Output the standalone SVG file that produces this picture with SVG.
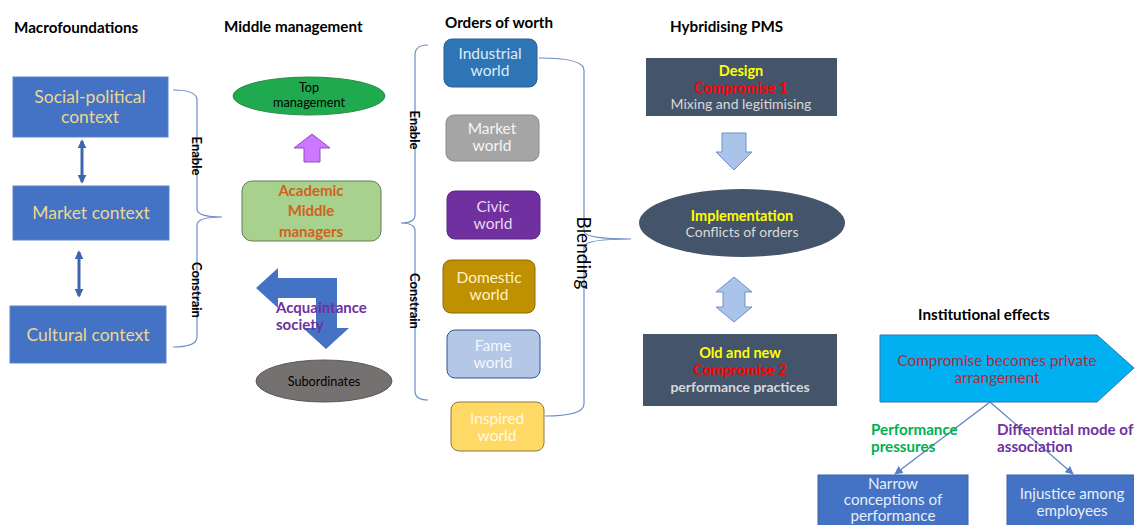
<svg xmlns="http://www.w3.org/2000/svg" width="1134" height="525" viewBox="0 0 1134 525">
<style>
text{font-family:Lato,"Liberation Sans",Arial,sans-serif}
.h{font-size:15.2px;font-weight:bold;fill:#000}
.ctx{fill:#4472C4;stroke:#5B83C9;stroke-width:1}
.ctxt{font-size:17.5px;fill:#EBD88E;text-anchor:middle}
.world{stroke-width:1}
.wt{font-size:15.5px;text-anchor:middle}
.brace{fill:none;stroke:#6E8CC8;stroke-width:1.2}
.rot{font-size:13px;font-weight:bold;fill:#000;text-anchor:middle}
.dark{fill:#44546A}
.y{fill:#FFFF00;font-weight:bold;font-size:14.5px;text-anchor:middle}
.r{fill:#FF0000;font-weight:bold;font-size:14.5px;text-anchor:middle}
.g{fill:#D9D9D9;font-size:14px;text-anchor:middle}
.conn{stroke:#5B7FC4;stroke-width:1.2;fill:none}
.dbl{stroke:#3F64B0;stroke-width:3}
.bluearr{fill:#A9C4E8;stroke:#6F8FC8;stroke-width:1}
.lbl{font-size:15.2px;font-weight:bold}
.bt{font-size:15.2px;fill:#E7EEF8;text-anchor:middle}
</style>
<defs>
<marker id="ah" viewBox="0 0 10 10" refX="9" refY="5" markerWidth="7" markerHeight="7" orient="auto-start-reverse">
<path d="M0,0 L10,5 L0,10 z" fill="#5B7FC4"/>
</marker>
<marker id="dh" viewBox="0 0 10 10" refX="8" refY="5" markerWidth="3" markerHeight="3" orient="auto-start-reverse">
<path d="M0,0 L10,5 L0,10 z" fill="#3F64B0"/>
</marker>
</defs>
<rect width="1134" height="525" fill="#FFFFFF"/>

<g id="headings">
<text class="h" x="14" y="33">Macrofoundations</text>
<text class="h" x="224" y="32">Middle management</text>
<text class="h" x="445" y="28">Orders of worth</text>
<text class="h" x="670" y="32">Hybridising PMS</text>
<text class="h" x="918" y="320">Institutional effects</text>
</g>

<g id="social-political">
<rect class="ctx" x="13" y="77" width="155" height="60"/>
<text class="ctxt" x="90" y="103">Social-political</text>
<text class="ctxt" x="90" y="123">context</text>
</g>
<g id="market-context">
<rect class="ctx" x="13" y="186" width="156" height="54"/>
<text class="ctxt" x="91" y="219">Market context</text>
</g>
<g id="cultural-context">
<rect class="ctx" x="10" y="306" width="156" height="57"/>
<text class="ctxt" x="88" y="341">Cultural context</text>
</g>

<g id="top-management">
<ellipse cx="309" cy="96" rx="76" ry="19" fill="#1FAA4F" stroke="#2E8B47" stroke-width="1"/>
<text x="309" y="92" font-size="12.7" text-anchor="middle" fill="#000">Top</text>
<text x="309" y="107" font-size="12.7" text-anchor="middle" fill="#000">management</text>
</g>
<g id="up-arrow">
<path d="M294,148 L312,134 L330,148 L320,148 L320,162 L304,162 L304,148 z" fill="#CC77FF" stroke="#8E4FC0" stroke-width="1"/>
</g>
<g id="academic-middle-managers">
<rect x="242" y="181" width="139" height="60" rx="10" fill="#A9D18E" stroke="#5E7F52" stroke-width="1"/>
<text x="311" y="196" font-size="15" font-weight="bold" fill="#D0621B" text-anchor="middle">Academic</text>
<text x="311" y="216" font-size="15" font-weight="bold" fill="#D0621B" text-anchor="middle">Middle</text>
<text x="311" y="237" font-size="15" font-weight="bold" fill="#D0621B" text-anchor="middle">managers</text>
</g>
<g id="acquaintance-arrow">
<path d="M256,288 L278,268 L278,278 L337,278 L337,328 L349,328 L326,349 L303,328 L316,328 L316,298 L278,298 L278,308 z" fill="#4472C4"/>
<text x="276" y="313" font-size="15" font-weight="bold" fill="#7030A0">Acquaintance</text>
<text x="276" y="330" font-size="15" font-weight="bold" fill="#7030A0">society</text>
</g>
<g id="subordinates">
<ellipse cx="324" cy="381" rx="68" ry="21" fill="#767171" stroke="#5A5656" stroke-width="1"/>
<text x="324" y="386" font-size="12.7" text-anchor="middle" fill="#000">Subordinates</text>
</g>

<g id="industrial-world">
<rect class="world" x="444" y="39" width="93" height="48" rx="8" fill="#2E75B6" stroke="#2A5D93"/>
<text class="wt" x="490" y="59" fill="#DDEBF7">Industrial</text>
<text class="wt" x="490" y="76" fill="#DDEBF7">world</text>
</g>
<g id="market-world">
<rect class="world" x="446" y="115" width="93" height="46" rx="8" fill="#A5A5A5" stroke="#8C8C8C"/>
<text class="wt" x="492" y="134" fill="#F5F5F5">Market</text>
<text class="wt" x="492" y="151" fill="#F5F5F5">world</text>
</g>
<g id="civic-world">
<rect class="world" x="447" y="191" width="93" height="48" rx="8" fill="#7030A0" stroke="#5A2880"/>
<text class="wt" x="493" y="212" fill="#E8D8F2">Civic</text>
<text class="wt" x="493" y="229" fill="#E8D8F2">world</text>
</g>
<g id="domestic-world">
<rect class="world" x="443" y="260" width="92" height="53" rx="8" fill="#BF9000" stroke="#8F6C00"/>
<text class="wt" x="489" y="283" fill="#FFF2CC">Domestic</text>
<text class="wt" x="489" y="300" fill="#FFF2CC">world</text>
</g>
<g id="fame-world">
<rect class="world" x="447" y="330" width="93" height="48" rx="8" fill="#B4C7E7" stroke="#2F5597"/>
<text class="wt" x="493" y="351" fill="#F4F7FC">Fame</text>
<text class="wt" x="493" y="368" fill="#F4F7FC">world</text>
</g>
<g id="inspired-world">
<rect class="world" x="451" y="402" width="93" height="49" rx="8" fill="#FFD966" stroke="#8C7A40"/>
<text class="wt" x="497" y="424" fill="#FFF8E6">Inspired</text>
<text class="wt" x="497" y="441" fill="#FFF8E6">world</text>
</g>

<g id="design">
<rect class="dark" x="646" y="58" width="191" height="58"/>
<text class="y" x="741" y="76">Design</text>
<text class="r" x="741" y="93">Compromise 1</text>
<text class="g" x="741" y="109">Mixing and legitimising</text>
</g>
<g id="down-arrow">
<path class="bluearr" d="M722,133 L746,133 L746,152 L752,152 L734,170 L716,152 L722,152 z"/>
</g>
<g id="implementation">
<ellipse class="dark" cx="742" cy="223" rx="103" ry="34"/>
<text class="y" x="742" y="221">Implementation</text>
<text class="g" x="742" y="237">Conflicts of orders</text>
</g>
<g id="double-arrow">
<path class="bluearr" d="M734,277 L752,292 L745,292 L745,307 L752,307 L734,322 L716,307 L723,307 L723,292 L716,292 z"/>
</g>
<g id="old-and-new">
<rect class="dark" x="643" y="334" width="194" height="72"/>
<text class="y" x="740" y="358" font-size="15">Old and new</text>
<text class="r" x="740" y="375" font-size="15">Compromise 2</text>
<text class="g" x="740" y="392" font-size="15" font-weight="bold">performance practices</text>
</g>

<g id="private-arrangement">
<path d="M880,335 L1097,335 L1134,368 L1097,402 L880,402 z" fill="#00B0F0" stroke="#2E75B6" stroke-width="1"/>
<text x="997" y="366" font-size="15.3" fill="#B8283A" text-anchor="middle">Compromise becomes private</text>
<text x="997" y="383" font-size="15.3" fill="#B8283A" text-anchor="middle">arrangement</text>
</g>
<g id="narrow-conceptions">
<rect x="818" y="475" width="150" height="55" fill="#4472C4" stroke="#3A62A8" stroke-width="1"/>
<text class="bt" x="893" y="489" font-size="14">Narrow</text>
<text class="bt" x="893" y="505" font-size="14">conceptions of</text>
<text class="bt" x="893" y="521" font-size="14">performance</text>
</g>
<g id="injustice">
<rect x="1007" y="475" width="130" height="55" fill="#4472C4" stroke="#3A62A8" stroke-width="1"/>
<text class="bt" x="1072" y="499">Injustice among</text>
<text class="bt" x="1072" y="516">employees</text>
</g>

<g id="connectors">
<line class="dbl" x1="82" y1="141" x2="82" y2="182" marker-start="url(#dh)" marker-end="url(#dh)"/>
<line class="dbl" x1="79" y1="252" x2="79" y2="296" marker-start="url(#dh)" marker-end="url(#dh)"/>
<path class="brace" d="M173,90 Q197,90 197,100 L197,209 Q197,217 222,217 Q197,217 197,225 L197,337 Q197,347 173,347"/>
<path class="brace" d="M428,45 Q415,45 415,55 L415,215 Q415,223 401,223 Q415,223 415,231 L415,391 Q415,400 428,400"/>
<path class="brace" d="M539,58 Q584,58 584,70 L584,231 Q584,239 631,239 Q584,239 584,247 L584,404 Q584,416 545,416"/>
<line class="conn" x1="990" y1="402" x2="895" y2="474" marker-end="url(#ah)"/>
<line class="conn" x1="990" y1="402" x2="1073" y2="474" marker-end="url(#ah)"/>
</g>

<g id="labels">
<text class="rot" transform="translate(192,156) rotate(90)">Enable</text>
<text class="rot" transform="translate(192,290) rotate(90)">Constrain</text>
<text class="rot" transform="translate(410,130) rotate(90)">Enable</text>
<text class="rot" transform="translate(410,301) rotate(90)">Constrain</text>
<text transform="translate(577,253) rotate(90)" font-size="19" fill="#000" text-anchor="middle">Blending</text>
<text class="lbl" x="871" y="435" fill="#00B050">Performance</text>
<text class="lbl" x="871" y="452" fill="#00B050">pressures</text>
<text class="lbl" x="997" y="435" fill="#7030A0">Differential mode of</text>
<text class="lbl" x="997" y="452" fill="#7030A0">association</text>
</g>
</svg>
